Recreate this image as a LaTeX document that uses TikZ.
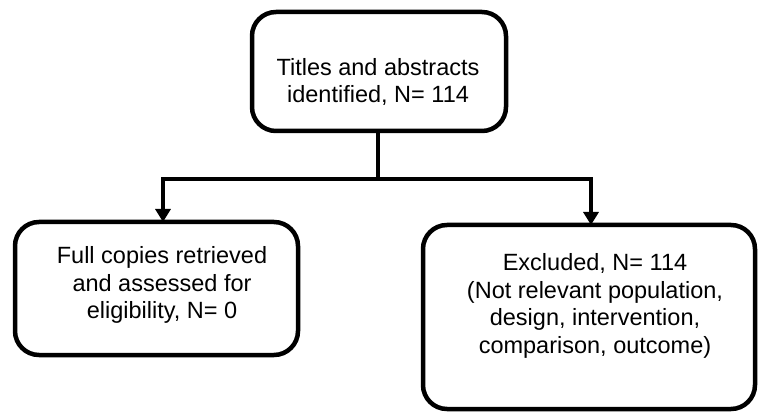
\documentclass[tikz,border=0pt]{standalone}
\usepackage{fontspec}
\setmainfont{Liberation Sans}
\usetikzlibrary{arrows.meta}
\begin{document}
\begin{tikzpicture}[x=1pt,y=-1pt,
  boxstyle/.style={draw=black,line width=4.5pt,rounded corners=24pt,fill=white},
  txt/.style={align=center,font=\fontsize{23.5}{27.5}\selectfont,inner sep=0pt},
  conn/.style={line width=4.5pt,draw=black},
  arr/.style={conn,-{Triangle[width=15pt,length=13pt]}}]
\useasboundingbox (0,0) rectangle (763,414);
\draw[boxstyle] (252,12) rectangle (506,131);
\node[txt] (top) at (378,82) {Titles and abstracts\\identified, N= 114};
\draw[boxstyle] (15,222) rectangle (298,355);
\node[txt] (left) at (162,285) {Full copies retrieved\\and assessed for\\eligibility, N= 0};
\draw[boxstyle] (423,225) rectangle (755,409);
\node[txt] (right) at (595,306) {Excluded, N= 114\\(Not relevant population,\\design, intervention,\\comparison, outcome)};
\coordinate (tb) at (378,133);
\coordinate (j) at (378,179);
\coordinate (jl) at (163,179);
\coordinate (jr) at (591,179);
\coordinate (lt) at (163,222);
\coordinate (rt) at (591,225);
\draw[conn] (tb) -- (j);
\draw[conn,line cap=rect] (jl) -- (jr);
\draw[arr] (jl) -- (lt);
\draw[arr] (jr) -- (rt);
\end{tikzpicture}
\end{document}
